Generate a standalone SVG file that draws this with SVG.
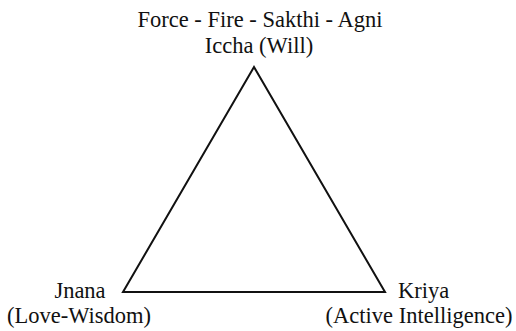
<svg xmlns="http://www.w3.org/2000/svg" width="516" height="331" viewBox="0 0 516 331">
<style>
text{font-family:"Liberation Serif",serif;font-size:22.5px;fill:#111}
.edge{fill:none;stroke:#111;stroke-width:2;stroke-linejoin:miter}
</style>
<rect width="516" height="331" fill="#fff"/>
<g id="connectors">
<polygon class="edge" points="254,67 123,292 385,292"/>
</g>
<g id="iccha">
<text x="260" y="27" text-anchor="middle">Force - Fire - Sakthi - Agni</text>
<text x="259" y="53" text-anchor="middle">Iccha (Will)</text>
</g>
<g id="jnana">
<text x="80" y="298" text-anchor="middle">Jnana</text>
<text x="79" y="323" text-anchor="middle">(Love-Wisdom)</text>
</g>
<g id="kriya">
<text x="398" y="298">Kriya</text>
<text x="419" y="323" text-anchor="middle">(Active Intelligence)</text>
</g>
</svg>
